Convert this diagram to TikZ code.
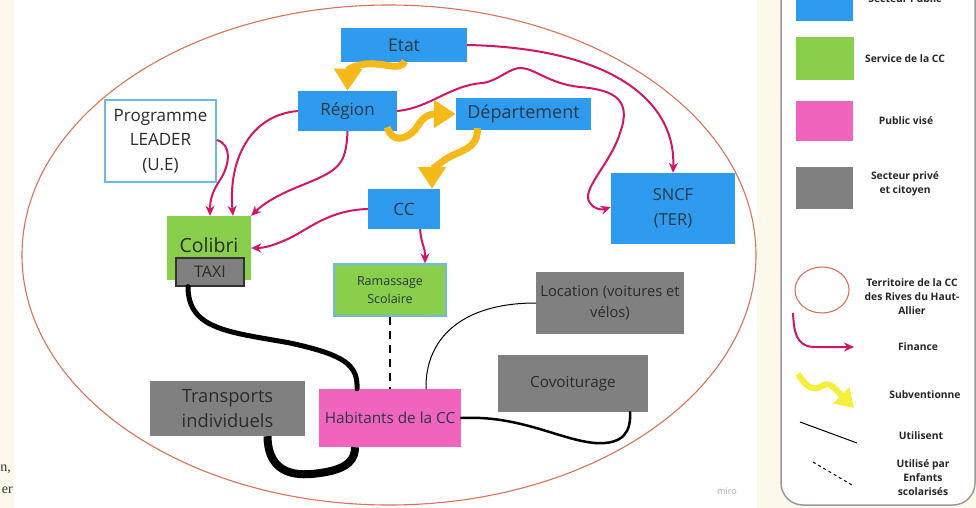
\documentclass[tikz,border=0pt]{standalone}
\usepackage{fontspec}
\setmainfont{Open Sans}
\newfontfamily\serifpart{Liberation Serif}
\usetikzlibrary{arrows.meta}
\definecolor{cream}{HTML}{FDF8EC}
\definecolor{pubblue}{HTML}{2E9BEE}
\definecolor{ccgreen}{HTML}{8ACF4C}
\definecolor{pubpink}{HTML}{F064BE}
\definecolor{privgrey}{HTML}{808080}
\definecolor{finmag}{HTML}{D3156A}
\definecolor{subgold}{HTML}{F6B91A}
\definecolor{sublemon}{HTML}{F5EE3A}
\definecolor{terr}{HTML}{D9735A}
\definecolor{boxtext}{HTML}{2A3744}
\definecolor{greytext}{HTML}{2B2B2B}
\definecolor{leaderline}{HTML}{72B8E6}
\definecolor{panelline}{HTML}{9A9A9A}
\begin{document}
\begin{tikzpicture}[x=1pt,y=-1pt,
  boxbase/.style={rectangle,inner sep=0pt,align=center,text=boxtext},
  bluebox/.style={boxbase,fill=pubblue},
  greenbox/.style={boxbase,fill=ccgreen},
  pinkbox/.style={boxbase,fill=pubpink},
  greybox/.style={boxbase,fill=privgrey,text=greytext},
  fin/.style={draw=finmag,line width=2pt,-{Stealth[length=10pt,width=9pt]}},
  sub/.style={draw=subgold,line width=7pt,-{Triangle[length=22pt,width=27pt]}},
  uses/.style={draw=black,line cap=round},
  leglabel/.style={align=center,font=\fontsize{10.3}{14}\selectfont\bfseries,text=black!85}]
\useasboundingbox (0,0) rectangle (976,508);
% backgrounds
\fill[cream] (0,0) rectangle (976,508);
\fill[white] (14,0) rectangle (757,508);
% territory ellipse
\draw[terr,line width=1.1pt] (389,255) ellipse [x radius=367,y radius=250];
% nodes
\node[bluebox,minimum width=126pt,minimum height=34pt,font=\fontsize{17.5}{22}\selectfont] (etat) at (404,45) {Etat};
\node[bluebox,minimum width=99pt,minimum height=40pt,font=\fontsize{17}{22}\selectfont] (reg) at (347.5,111) {Région};
\node[bluebox,minimum width=135pt,minimum height=32pt,font=\fontsize{18}{22}\selectfont] (dep) at (523.5,114) {Département};
\node[bluebox,minimum width=72pt,minimum height=40pt,font=\fontsize{17}{22}\selectfont] (cc) at (404,209) {CC};
\node[bluebox,minimum width=124pt,minimum height=71pt,font=\fontsize{16.5}{25}\selectfont] (sncf) at (673,208.5) {SNCF\\(TER)};
\node[boxbase,fill=white,draw=leaderline,line width=1.3pt,minimum width=111pt,minimum height=82pt,font=\fontsize{17}{24.5}\selectfont,text=greytext] (leader) at (160.5,141) {Programme\\LEADER\\(U.E)};
\node[greenbox,minimum width=84pt,minimum height=64pt] (colibri) at (209,248) {};
\node[font=\fontsize{19.5}{22}\selectfont,text=greytext,inner sep=0pt] (colibrilabel) at (209,245) {Colibri};
\node[greybox,draw=black!80,line width=1.3pt,minimum width=68pt,minimum height=28pt,font=\fontsize{16}{20}\selectfont] (taxi) at (210,272) {TAXI};
\node[greenbox,draw=leaderline,line width=1.3pt,minimum width=112pt,minimum height=52pt,font=\fontsize{12.5}{17.5}\selectfont] (ram) at (390,290) {Ramassage\\Scolaire};
\node[greybox,minimum width=148pt,minimum height=62pt,font=\fontsize{14.7}{21}\selectfont] (loc) at (610,303) {Location (voitures et\\vélos)};
\node[greybox,minimum width=150pt,minimum height=57pt,font=\fontsize{15.3}{20}\selectfont] (cov) at (573,383.5) {Covoiturage};
\node[greybox,minimum width=155pt,minimum height=55pt,font=\fontsize{18.3}{25}\selectfont] (trans) at (227.5,408.5) {Transports\\individuels};
\node[pinkbox,minimum width=142pt,minimum height=58pt,font=\fontsize{15.3}{20}\selectfont] (hab) at (390,418) {Habitants de la CC};
% finance arrows
\draw[fin] (etat.east) .. controls (610,48) and (676,100) .. (sncf.north);
\draw[fin] (reg.east) .. controls (430,108) and (450,85) .. (483,83)
  .. controls (500,80) and (510,67) .. (522,68)
  .. controls (535,69) and (550,84) .. (580,87)
  .. controls (615,90) and (632,100) .. (620,133)
  .. controls (610,165) and (580,190) .. (590,203)
  .. controls (595,210) and (602,210) .. ([yshift=1.5pt]sncf.west);
\draw[fin] (reg.west) .. controls (250,115) and (228,160) .. ([xshift=24pt]colibri.north);
\draw[fin] (reg.south) .. controls (346,165) and (340,170) .. (300,186)
  .. controls (275,196) and (262,205) .. (colibri.north east);
\draw[fin] ([yshift=1pt]leader.east) .. controls (232,144) and (230,165) .. (220,180)
  .. controls (212,192) and (210,200) .. ([xshift=1pt]colibri.north);
\draw[fin] (cc.west) .. controls (330,210) and (310,228) .. (290,238)
  .. controls (275,245) and (265,248) .. (colibri.east);
\draw[fin] ([xshift=16pt]cc.south) .. controls (422,248) and (425,245) .. ([xshift=35pt]ram.north);
% subsidy arrows
\draw[sub] ([xshift=1pt,yshift=1pt]etat.south) .. controls (400,72) and (385,62) .. (365,64)
  .. controls (352,66) and (348,70) .. (reg.north);
\draw[sub] ([xshift=-10pt,yshift=4pt]reg.south east) .. controls (392,143) and (405,140) .. (415,130)
  .. controls (420,122) and (425,114) .. (dep.west);
\draw[sub] ([xshift=-46pt,yshift=2pt]dep.south) .. controls (478,150) and (460,150) .. (446,159)
  .. controls (436,166) and (432,170) .. ([xshift=28pt]cc.north);
% usage links
\draw[uses,line width=5pt] ([xshift=-22pt]taxi.south) .. controls (188,330) and (230,332) .. (290,343)
  .. controls (345,355) and (358,365) .. ([xshift=-33pt]hab.north);
\draw[uses,line width=8pt,line cap=butt] ([xshift=40pt]trans.south) .. controls (268,477) and (300,476) .. (320,473)
  .. controls (350,469) and (355,458) .. ([xshift=-35pt]hab.south);
\draw[line width=2.5pt,dash pattern=on 8pt off 6pt] (ram.south) -- (hab.north);
\draw[uses,line width=1pt] ([xshift=36pt]hab.north) .. controls (425,340) and (460,303) .. (loc.west);
\draw[uses,line width=2.5pt] (hab.east) .. controls (520,415) and (560,440) .. (595,443)
  .. controls (625,445) and (631,430) .. ([xshift=57pt]cov.south);
% watermark
\node[text=black!35,font=\fontsize{9}{10}\selectfont] (miro) at (727,491) {miro};
% fragments of page text on the left
\node[anchor=base east,inner sep=0pt,font=\serifpart\fontsize{14}{16}\selectfont,text=black!80] (frag1) at (11,471) {n,};
\node[anchor=base east,inner sep=0pt,font=\serifpart\fontsize{14}{16}\selectfont,text=black!80] (frag2) at (13,493) {er};
% legend panel
\filldraw[fill=white,draw=panelline,line width=1.5pt,rounded corners=22pt] (781,-30) -- (781,505) -- (975,505) -- (975,-30);
\fill[pubblue] (796,-8) rectangle (853,21);
\node[leglabel] (l1) at (905,-1) {Secteur Public};
\fill[ccgreen] (796,37) rectangle (854,80);
\node[leglabel] (l2) at (905,59) {Service de la CC};
\fill[pubpink] (796,101) rectangle (853,141);
\node[leglabel] (l3) at (906,121) {Public visé};
\fill[privgrey] (796,167) rectangle (853,209);
\node[leglabel] (l4) at (905,184) {Secteur privé\\et citoyen};
\draw[terr,line width=1.1pt] (822,290) ellipse [x radius=27,y radius=23];
\node[leglabel] (l5) at (912,297) {Territoire de la CC\\des Rives du Haut-\\Allier};
\coordinate (fa) at (793,313);
\coordinate (fb) at (854,347);
\draw[fin] (fa) .. controls (794,330) and (795,347) .. (815,347) -- (fb);
\node[leglabel] (l6) at (918,347) {Finance};
\coordinate (sa) at (798,374);
\coordinate (sb) at (854,408);
\draw[draw=sublemon,line width=6pt,-{Triangle[length=18pt,width=22pt]}] (sa) .. controls (806,386) and (812,392) .. (822,386)
  .. controls (830,381) and (834,388) .. (sb);
\node[leglabel] (l7) at (925,395) {Subventionne};
\coordinate (ua) at (800,422);
\coordinate (ub) at (857,443);
\draw[line width=1pt] (ua) -- (ub);
\node[leglabel] (l8) at (921,436) {Utilisent};
\coordinate (da) at (813,462);
\coordinate (db) at (852,485);
\draw[line width=1pt,dash pattern=on 3pt off 3pt] (da) -- (db);
\node[leglabel] (l9) at (923,478) {Utilisé par\\Enfants\\scolarisés};
\end{tikzpicture}
\end{document}
